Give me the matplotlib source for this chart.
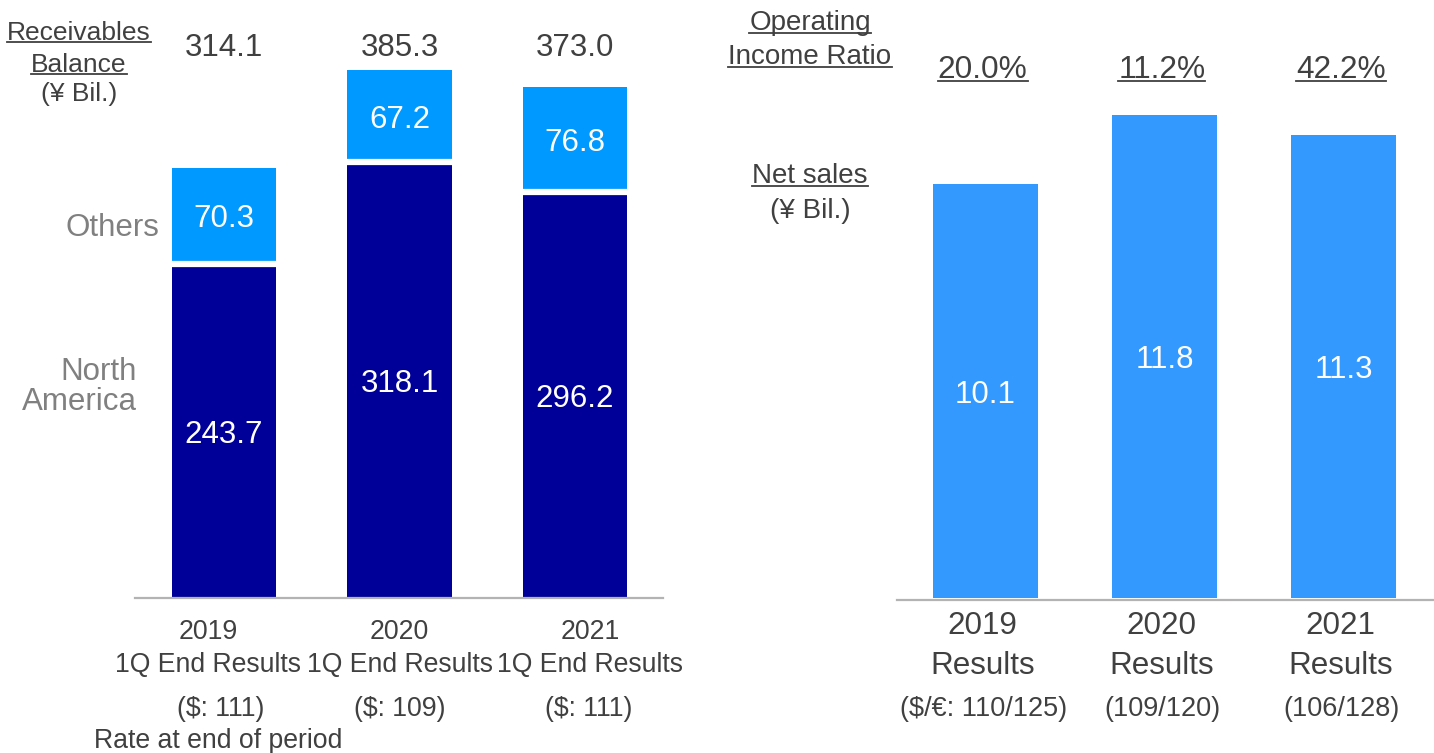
import matplotlib
matplotlib.use('Agg')
import matplotlib.pyplot as plt
from matplotlib.lines import Line2D
from matplotlib import transforms
import numpy as np

plt.rcParams['font.family'] = ['Liberation Sans', 'DejaVu Sans']

# データ
years = ['2019', '2020', '2021']
north_america = [243.7, 318.1, 296.2]
others = [70.3, 67.2, 76.8]
totals = [314.1, 385.3, 373.0]
left_periods = ['1Q End Results', '1Q End Results', '1Q End Results']
left_rates = ['($: 111)', '($: 109)', '($: 111)']

net_sales = [10.1, 11.8, 11.3]
op_ratio = ['20.0%', '11.2%', '42.2%']
right_periods = ['Results', 'Results', 'Results']
right_rates = ['($/€: 110/125)', '(109/120)', '(106/128)']

# 色
navy = '#000099'
light = '#0099ff'
sales_blue = '#3399ff'
txt = '#404040'
side_gray = '#808080'
axis_gray = '#b3b3b3'

W, H = 1434, 753
fig = plt.figure(figsize=(W / 100, H / 100), dpi=100)


def fy(ypx):
    # 画像の上からのピクセル位置 -> figure座標
    return 1 - ypx / H


def fx(xpx):
    return xpx / W


underlined = []

# ---- 左: 売掛金残高 ----
ax1 = fig.add_axes([fx(135), fy(598), (663 - 135) / W, 598 / H])
x = np.arange(len(years))
bw = 0.593
ax1.bar(x, north_america, width=bw, color=navy)
ax1.bar(x, others, width=bw, bottom=north_america, color=light)
ax1.hlines(north_america, x - bw / 2, x + bw / 2, color='white', lw=4.5)
ax1.set_xlim(-0.507, 2.501)
ax1.set_ylim(0, 436.5)

for i in range(len(years)):
    ax1.text(x[i], north_america[i] / 2, f'{north_america[i]:.1f}', color='white',
             fontsize=22.5, ha='center', va='center_baseline')
    ax1.text(x[i], north_america[i] + others[i] / 2, f'{others[i]:.1f}', color='white',
             fontsize=22.5, ha='center', va='center_baseline')

ylab_trans = transforms.blended_transform_factory(ax1.transData, fig.transFigure)
for i in range(len(years)):
    ax1.text(x[i], fy(44), f'{totals[i]:.1f}', transform=ylab_trans, color=txt,
             fontsize=22.5, ha='center', va='center_baseline')

lab_dx = [-0.09, 0.0, 0.085]
rate_dx = [-0.02, 0.0, 0.075]
for i in range(len(years)):
    ax1.text(x[i] + lab_dx[i], fy(629), years[i], transform=ylab_trans, color=txt,
             fontsize=19.2, ha='center', va='center_baseline')
    ax1.text(x[i] + lab_dx[i], fy(662), left_periods[i], transform=ylab_trans, color=txt,
             fontsize=19.2, ha='center', va='center_baseline')
    ax1.text(x[i] + rate_dx[i], fy(706), left_rates[i], transform=ylab_trans, color=txt,
             fontsize=19.2, ha='center', va='center_baseline')
fig.text(fx(94), fy(738), 'Rate at end of period', color=txt, fontsize=19.2,
         ha='left', va='center_baseline')

t = fig.text(fx(79), fy(30), 'Receivables', color=txt, fontsize=19, ha='center', va='center_baseline')
underlined.append(t)
t = fig.text(fx(79), fy(62), 'Balance', color=txt, fontsize=19, ha='center', va='center_baseline')
underlined.append(t)
fig.text(fx(79), fy(92), '(¥ Bil.)', color=txt, fontsize=19, ha='center', va='center_baseline')

fig.text(fx(159), fy(225), 'Others', color=side_gray, fontsize=22.5, ha='right', va='center_baseline')
fig.text(fx(137), fy(369), 'North', color=side_gray, fontsize=22.5, ha='right', va='center_baseline')
fig.text(fx(137), fy(398), 'America', color=side_gray, fontsize=22.5, ha='right', va='center_baseline')

# ---- 右: 売上高 ----
ax2 = fig.add_axes([fx(897), fy(600), (1434 - 897) / W, 600 / H])
bw2 = 0.587
ax2.bar(x, net_sales, width=bw2, color=sales_blue)
ax2.set_xlim(-0.494, 2.506)
ax2.set_ylim(-0.05, 14.6)
for i in range(len(years)):
    ax2.text(x[i], net_sales[i] / 2, f'{net_sales[i]:.1f}', color='white',
             fontsize=22.5, ha='center', va='center_baseline')

ylab_trans2 = transforms.blended_transform_factory(ax2.transData, fig.transFigure)
for i in range(len(years)):
    t = ax2.text(x[i] - 0.015, fy(66), op_ratio[i], transform=ylab_trans2, color=txt,
                 fontsize=22.8, ha='center', va='center_baseline')
    underlined.append(t)
    ax2.text(x[i] - 0.015, fy(623), years[i], transform=ylab_trans2, color=txt,
             fontsize=22.6, ha='center', va='center_baseline')
    ax2.text(x[i] - 0.015, fy(662), right_periods[i], transform=ylab_trans2, color=txt,
             fontsize=22.6, ha='center', va='center_baseline')
    ax2.text(x[i] - 0.01, fy(706), right_rates[i], transform=ylab_trans2, color=txt,
             fontsize=19.5, ha='center', va='center_baseline')

t = fig.text(fx(810), fy(20), 'Operating', color=txt, fontsize=20, ha='center', va='center_baseline')
underlined.append(t)
t = fig.text(fx(810), fy(54), 'Income Ratio', color=txt, fontsize=20, ha='center', va='center_baseline')
underlined.append(t)
t = fig.text(fx(810), fy(173), 'Net sales', color=txt, fontsize=20, ha='center', va='center_baseline')
underlined.append(t)
fig.text(fx(810), fy(208), '(¥ Bil.)', color=txt, fontsize=20, ha='center', va='center_baseline')

# 軸の装飾
for ax in (ax1, ax2):
    for s in ['top', 'right', 'left']:
        ax.spines[s].set_visible(False)
    ax.spines['bottom'].set_color(axis_gray)
    ax.spines['bottom'].set_linewidth(1.6)
    ax.set_xticks([])
    ax.set_yticks([])
    ax.patch.set_alpha(0)

# 下線を描く
fig.canvas.draw()
renderer = fig.canvas.get_renderer()
inv = fig.transFigure.inverted()
for t in underlined:
    bb = t.get_window_extent(renderer)
    em = t.get_fontsize() * fig.dpi / 72
    y = bb.y0 + 0.1 * em
    (x0, y0), (x1, _) = inv.transform([(bb.x0, y), (bb.x1, y)])
    fig.add_artist(Line2D([x0, x1], [y0, y0], transform=fig.transFigure,
                          color=t.get_color(), lw=1.3))

fig.savefig('out.png', dpi=100)
